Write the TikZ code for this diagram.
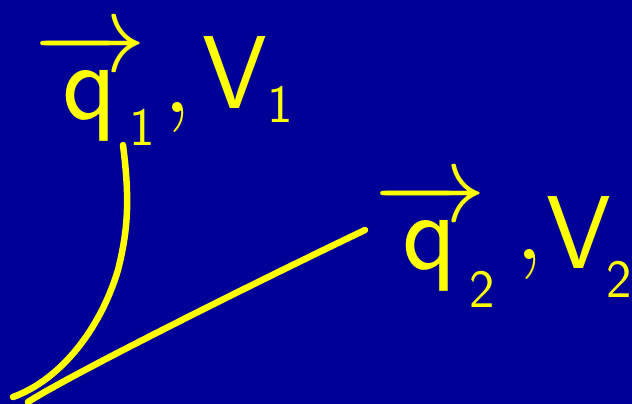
\documentclass[tikz,border=0pt]{standalone}
\usepackage{amsmath}
\definecolor{bg}{RGB}{0,0,150}
\definecolor{ink}{RGB}{255,255,0}
\begin{document}
\begin{tikzpicture}[x=1pt,y=-1pt,
  stroke/.style={draw=ink,line width=6.5pt,line cap=round,line join=round},
  big/.style={text=ink,inner sep=0pt,font=\fontsize{20}{24}\selectfont,scale=5},
  qbig/.style={text=ink,inner sep=0pt,font=\fontsize{20}{24}\selectfont,scale=5.4},
  small/.style={text=ink,inner sep=0pt,font=\fontsize{20}{24}\selectfont,scale=2.6}]
\fill[bg] (0,0) rectangle (632,404);
\useasboundingbox (0,0) rectangle (632,404);
% label 1
\node[qbig] (q1) at (90,86) {$\overrightarrow{\mathsf{q}}$};
\node[small] (s1) at (142,128) {$\mathsf{1}$};
\node[big] (c1) at (178,118) {$,$};
\node[big] (v1) at (236,72) {$\mathsf{V}$};
\node[small] (t1) at (280,105) {$\mathsf{1}$};
% label 2
\node[qbig] (q2) at (430,236) {$\overrightarrow{\mathsf{q}}$};
\node[small] (s2) at (482,290) {$\mathsf{2}$};
\node[big] (c2) at (530,265) {$,$};
\node[big] (v2) at (580,232) {$\mathsf{V}$};
\node[small] (t2) at (619,280) {$\mathsf{2}$};
% curves
\coordinate (a1) at (123,145);
\coordinate (am) at (118,270);
\coordinate (a2) at (13,397);
\coordinate (b1) at (28,402);
\coordinate (b2) at (365,230);
\draw[stroke] (a1) .. controls (130,200) and (128,230) .. (am)
  .. controls (100,330) and (60,380) .. (a2);
\draw[stroke] (b1) .. controls (70,375) and (250,285) .. (b2);
\end{tikzpicture}
\end{document}
